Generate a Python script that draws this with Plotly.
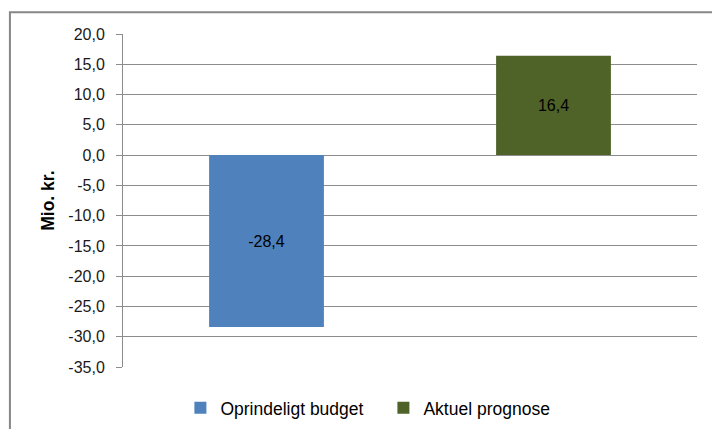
import plotly.graph_objects as go

categories = ["Oprindeligt budget", "Aktuel prognose"]
values = [-28.4, 16.4]
colors = ["#4F81BD", "#4F6228"]
y_ticks = [20, 15, 10, 5, 0, -5, -10, -15, -20, -25, -30, -35]
y_title = "Mio. kr."


def fmt(v):
    return f"{v:.1f}".replace(".", ",")


fig = go.Figure()
for cat, val, col in zip(categories, values, colors):
    fig.add_trace(go.Bar(
        x=[cat], y=[val], name=cat, marker=dict(color=col, line=dict(width=0)),
        width=0.4, text=[fmt(val)], texttemplate="%{text}", textposition="inside",
        insidetextanchor="middle", textangle=0,
        textfont=dict(color="#000000", size=16, family="Liberation Sans"),
        hoverinfo="skip",
    ))

fig.update_layout(
    width=712, height=429,
    margin=dict(l=123, r=15, t=34, b=62, autoexpand=False),
    paper_bgcolor="white", plot_bgcolor="white",
    barmode="overlay",
    font=dict(family="Liberation Sans", size=15, color="#000000"),
    showlegend=True,
    legend=dict(orientation="h", xref="paper", x=0.1, xanchor="left",
                yref="container", y=0.049, yanchor="middle",
                font=dict(size=17.5), itemwidth=30, entrywidth=158, traceorder="normal"),
    shapes=[dict(type="rect", xref="paper", yref="paper", x0=-0.197, x1=1.2, y0=-0.5, y1=1.065,
                 line=dict(color="#868686", width=2), fillcolor="rgba(0,0,0,0)", layer="below")],
    annotations=[dict(text="<b>" + y_title + "</b>", textangle=-90, xref="paper", yref="paper",
                      x=-0.131, y=0.4985, xanchor="center", yanchor="middle", showarrow=False,
                      font=dict(size=17.5, color="#000000"))],
)
fig.update_xaxes(showticklabels=False, showgrid=False, showline=False, zeroline=False, ticks="")
fig.update_yaxes(range=[-35, 20], tickvals=y_ticks, ticktext=[fmt(t) for t in y_ticks],
                 tickfont=dict(size=16, color="#1a1a1a"), ticklabelstandoff=8,
                 showgrid=True, gridcolor="#8C8C8C", gridwidth=1, zeroline=False, showline=True,
                 linecolor="#8C8C8C", linewidth=1, ticks="outside", ticklen=6, tickcolor="#8C8C8C",
                 automargin=False)

fig.write_html("out.html", post_script="document.body.style.margin='0';",
               config={"displayModeBar": False})
